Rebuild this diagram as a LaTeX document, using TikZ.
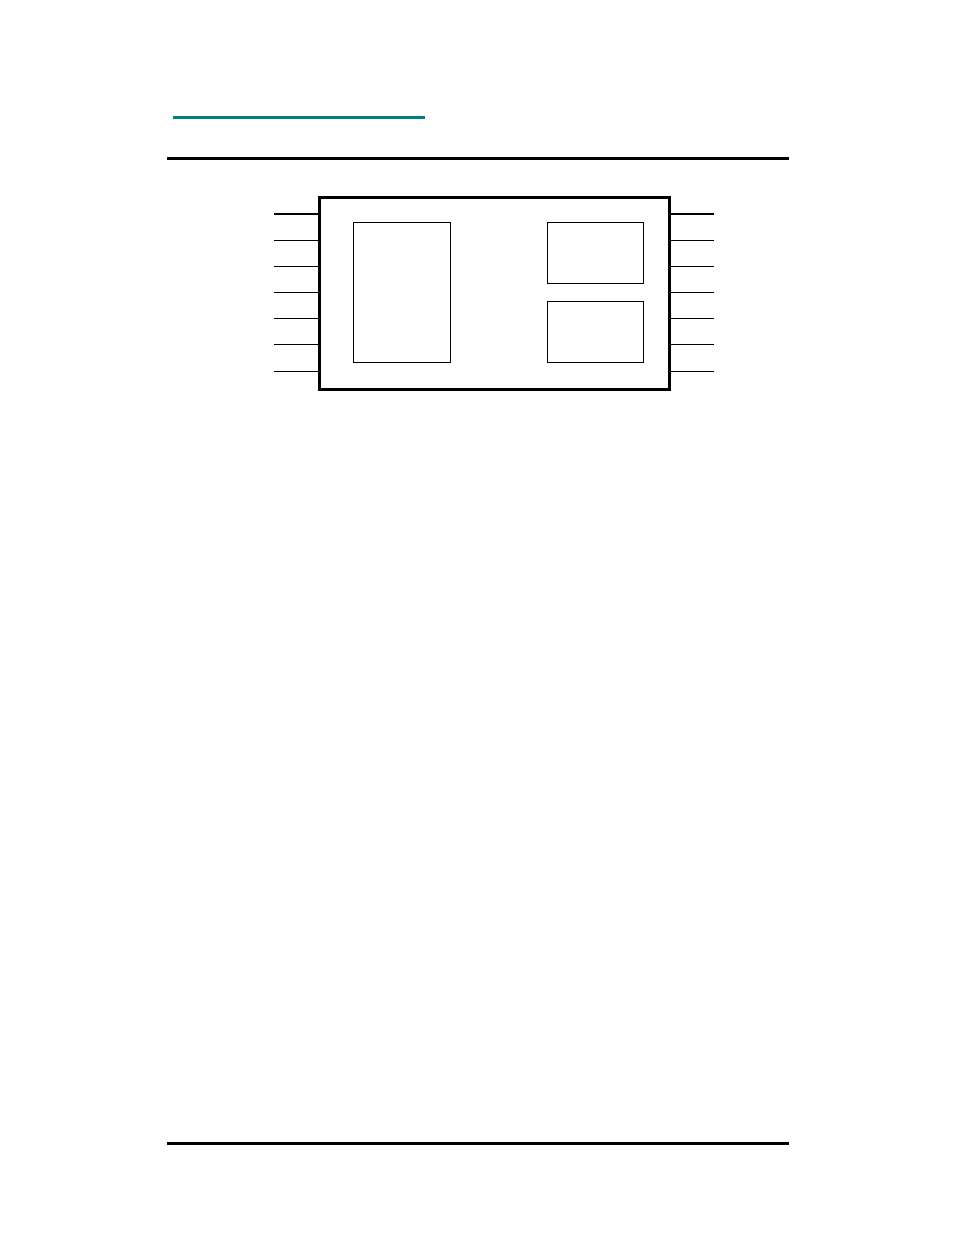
\documentclass[tikz,border=0pt]{standalone}
\usepackage{tikz}
\usetikzlibrary{arrows,positioning,calc}
\definecolor{headteal}{RGB}{0,128,128}
\tikzstyle{chipbox}=[draw,line width=3pt,rectangle,inner sep=0pt,minimum width=350pt,minimum height=192pt]
\tikzstyle{block}=[draw,line width=1pt,rectangle,inner sep=0pt]
\tikzstyle{pin}=[line width=1pt]
\tikzstyle{rule}=[line width=3pt]

\begin{document}
\begin{tikzpicture}[x=1pt,y=-1pt]
\useasboundingbox (0,0) rectangle (954,1235);
% header and footer
\coordinate (tl) at (173,117);
\coordinate (tr) at (425,117);
\draw [line width=3pt,headteal] (tl) -- (tr);
\coordinate (hl) at (167,158.5);
\coordinate (hr) at (789,158.5);
\draw [rule] (hl) -- (hr);
\coordinate (fl) at (167,1143.5);
\coordinate (fr) at (789,1143.5);
\draw [rule] (fl) -- (fr);
% package
\node [chipbox] (chip) at (494,293) {};
\node [block,minimum width=97pt,minimum height=140pt] (mem) at (401.5,292) {};
\node [block,minimum width=96pt,minimum height=61pt] (upper) at (595,252.5) {};
\node [block,minimum width=96pt,minimum height=61pt] (lower) at (595,331.5) {};
% pins
\foreach \i in {0,...,6}{
  \coordinate (l\i) at (274,214+26.17*\i);
  \coordinate (r\i) at (714,214+26.17*\i);
  \ifnum\i=0
    \draw [pin,line width=2pt] (chip.west |- l\i) -- (l\i);
    \draw [pin,line width=2pt] (chip.east |- r\i) -- (r\i);
  \else
    \draw [pin] (chip.west |- l\i) -- (l\i);
    \draw [pin] (chip.east |- r\i) -- (r\i);
  \fi
}
\end{tikzpicture}
\end{document}
